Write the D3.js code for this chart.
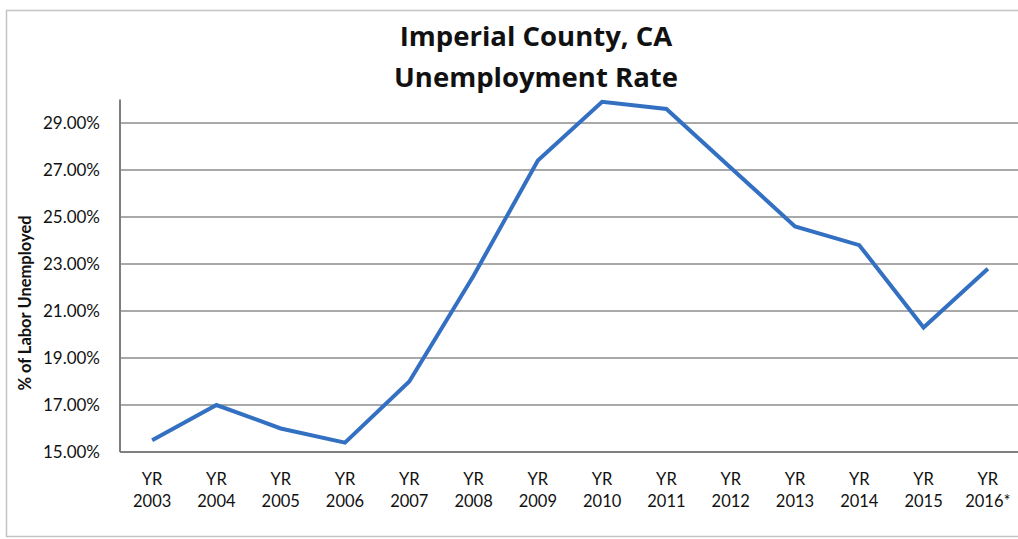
<!DOCTYPE html>
<html>
<head>
<meta charset="utf-8">
<script src="https://cdn.jsdelivr.net/npm/d3@7"></script>
<style>
  body { margin: 0; background: #fff; }
  svg { display: block; font-family: Lato, "Open Sans", sans-serif; }
</style>
</head>
<body>
<div id="holder"></div>
<script>
const w = 1018;
const h = 539;

// DATA
const years = ["2003", "2004", "2005", "2006", "2007", "2008", "2009",
               "2010", "2011", "2012", "2013", "2014", "2015", "2016*"];
const rates = [15.5, 17.0, 16.0, 15.4, 18.0, 22.5, 27.4,
               29.9, 29.6, 27.1, 24.6, 23.8, 20.3, 22.8];
const yTicks = [15, 17, 19, 21, 23, 25, 27, 29];

const svg = d3.select("#holder")
    .append("svg")
    .attr("width", w)
    .attr("height", h);

// outer frame
svg.append("rect")
    .attr("x", 6.5)
    .attr("y", 10.5)
    .attr("width", 1040)
    .attr("height", 526)
    .attr("fill", "none")
    .attr("stroke", "#c4c4c4")
    .attr("stroke-width", 1.5);

// SCALES
const xScale = d3.scaleBand()
    .domain(years)
    .range([120, 1020]);

const yScale = d3.scaleLinear()
    .domain([15, 30])
    .range([452, 99.5]);

const cx = d => xScale(d) + xScale.bandwidth() / 2;

// GRIDLINES
svg.append("g")
    .selectAll("line")
    .data(yTicks.slice(1))
    .enter()
    .append("line")
    .attr("x1", 120)
    .attr("x2", w)
    .attr("y1", d => yScale(d))
    .attr("y2", d => yScale(d))
    .attr("stroke", "#8c8c8c")
    .attr("stroke-width", 1.6);

// Y AXIS
const yAxis = d3.axisLeft(yScale)
    .tickValues(yTicks)
    .tickSize(0)
    .tickPadding(20)
    .tickFormat(d => d.toFixed(2) + "%");

const gy = svg.append("g")
    .attr("transform", "translate(120,0)")
    .call(yAxis);
gy.select(".domain").remove();
gy.selectAll("text")
    .attr("font-family", "Lato, sans-serif")
    .attr("font-size", 17)
    .attr("fill", "#111");

svg.append("line")
    .attr("x1", 120).attr("x2", 120)
    .attr("y1", yScale(30)).attr("y2", yScale(15))
    .attr("stroke", "#7f7f7f")
    .attr("stroke-width", 2);

// X AXIS
svg.append("line")
    .attr("x1", 120).attr("x2", w)
    .attr("y1", yScale(15)).attr("y2", yScale(15))
    .attr("stroke", "#7f7f7f")
    .attr("stroke-width", 2);

const xLabels = svg.append("g")
    .selectAll("text")
    .data(years)
    .enter()
    .append("text")
    .attr("x", d => cx(d))
    .attr("y", 485)
    .attr("text-anchor", "middle")
    .attr("font-size", 16.5)
    .attr("fill", "#111");
xLabels.append("tspan")
    .attr("x", d => cx(d))
    .text("YR");
xLabels.append("tspan")
    .attr("x", d => cx(d))
    .attr("dy", 22)
    .text(d => d);

// LINE
const line = d3.line()
    .x((d, i) => cx(years[i]))
    .y(d => yScale(d));

svg.append("path")
    .datum(rates)
    .attr("d", line)
    .attr("fill", "none")
    .attr("stroke", "#3470c2")
    .attr("stroke-width", 4)
    .attr("stroke-linejoin", "miter");

// TITLES
svg.append("text")
    .attr("x", 536)
    .attr("y", 46)
    .attr("text-anchor", "middle")
    .attr("font-family", "'Open Sans', sans-serif")
    .attr("font-size", 27.5)
    .attr("font-weight", "bold")
    .attr("fill", "#111")
    .text("Imperial County, CA");

svg.append("text")
    .attr("x", 536)
    .attr("y", 87)
    .attr("text-anchor", "middle")
    .attr("font-family", "'Open Sans', sans-serif")
    .attr("font-size", 27.5)
    .attr("font-weight", "bold")
    .attr("fill", "#111")
    .text("Unemployment Rate");

svg.append("text")
    .attr("transform", "translate(31,303) rotate(-90)")
    .attr("text-anchor", "middle")
    .attr("font-size", 16.5)
    .attr("font-weight", "bold")
    .attr("fill", "#111")
    .text("% of Labor Unemployed");
</script>
</body>
</html>
